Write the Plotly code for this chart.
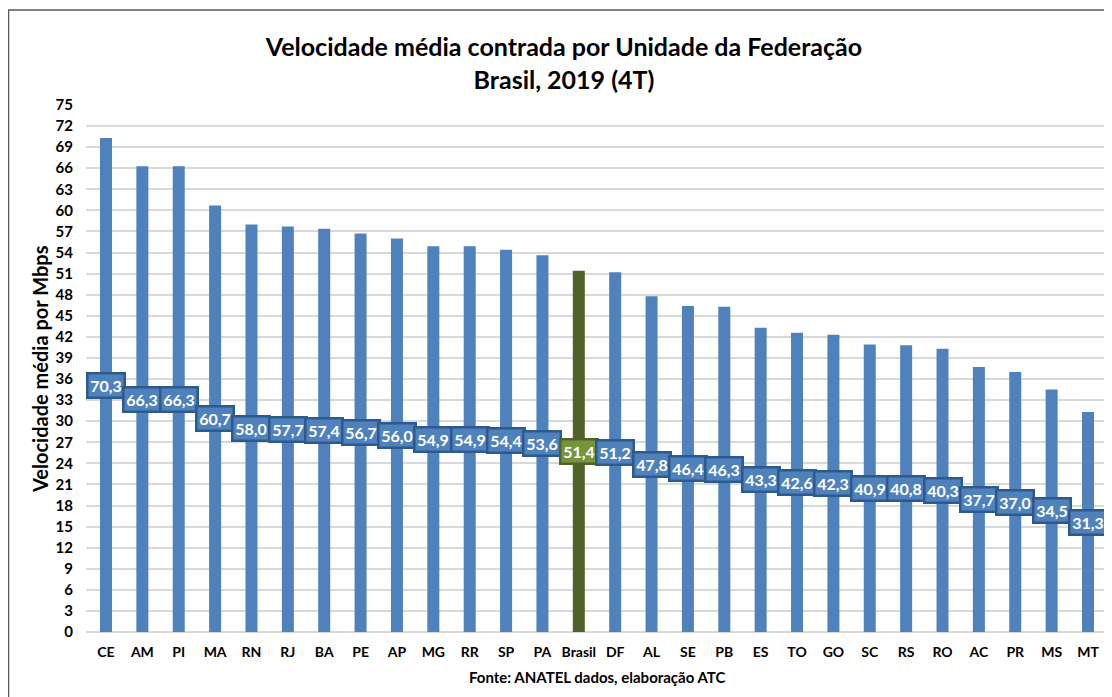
import plotly.graph_objects as go

categories = ["CE", "AM", "PI", "MA", "RN", "RJ", "BA", "PE", "AP", "MG", "RR", "SP", "PA",
              "Brasil", "DF", "AL", "SE", "PB", "ES", "TO", "GO", "SC", "RS", "RO", "AC", "PR", "MS", "MT"]
values = [70.3, 66.3, 66.3, 60.7, 58.0, 57.7, 57.4, 56.7, 56.0, 54.9, 54.9, 54.4, 53.6,
          51.4, 51.2, 47.8, 46.4, 46.3, 43.3, 42.6, 42.3, 40.9, 40.8, 40.3, 37.7, 37.0, 34.5, 31.3]
y_ticks = list(range(0, 76, 3))

FONT = "Lato"
BLUE = "#4F81BD"
BLUE_BORDER = "#2C5A8C"
GREEN_BAR = "#4F6228"
GREEN_BOX = "#77933C"

# page offset (body margin) compensation
OFF = 8
W, H = 1112 - OFF, 697 - OFF
PL, PR, PT, PB = 86 - OFF, 1108 - OFF, 105 - OFF, 632 - OFF
PW, PH = PR - PL, PB - PT


def px(xp):
    return (xp - OFF - PL) / PW


def py(yp):
    return (PB - (yp - OFF)) / PH


bar_colors = [GREEN_BAR if c == "Brasil" else BLUE for c in categories]

fig = go.Figure(go.Bar(
    x=categories, y=values, marker=dict(color=bar_colors, line=dict(width=0)),
    width=0.33, hoverinfo="x+y"
))

annotations = []
for c, v in zip(categories, values):
    is_br = c == "Brasil"
    annotations.append(dict(
        x=c, y=v / 2, xref="x", yref="y",
        text=f"{v:.1f}".replace(".", ","), showarrow=False,
        font=dict(family=FONT, size=16, color="white", weight="bold"),
        bgcolor=GREEN_BOX if is_br else BLUE,
        bordercolor=GREEN_BAR if is_br else BLUE_BORDER,
        borderwidth=2.5, borderpad=1, width=33, height=20, align="center",
    ))

annotations.append(dict(
    x=px(597), y=py(677), xref="paper", yref="paper", showarrow=False,
    text="Fonte: ANATEL dados, elaboração ATC",
    font=dict(family=FONT, size=15, color="black", weight="bold"),
    xanchor="center", yanchor="middle",
))

annotations.append(dict(
    x=px(40), y=py(369), xref="paper", yref="paper", showarrow=False,
    text="Velocidade média por Mbps", textangle=-90,
    font=dict(family=FONT, size=20, color="black", weight="bold"),
    xanchor="center", yanchor="middle",
))

fig.update_layout(
    width=W, height=H,
    margin=dict(l=PL, r=W - PR, t=PT, b=H - PB),
    paper_bgcolor="white", plot_bgcolor="white",
    title=dict(
        text="Velocidade média contrada por Unidade da Federação<br>Brasil, 2019 (4T)",
        x=(564 - OFF) / W, xanchor="center", y=1 - (56 - OFF) / H, yanchor="middle",
        font=dict(family=FONT, size=25, color="black", weight="bold"),
    ),
    showlegend=False,
    annotations=annotations,
    xaxis=dict(
        tickfont=dict(family=FONT, size=14, color="black", weight="bold"),
        showgrid=False, showline=False, zeroline=False, ticks="",
        ticklabelstandoff=10,
    ),
    yaxis=dict(
        range=[0, 75], tickvals=y_ticks,
        tickfont=dict(family=FONT, size=15, color="black", weight="bold"),
        showgrid=True, gridcolor="#D9D9D9", gridwidth=1.5,
        zeroline=True, zerolinecolor="#D9D9D9", zerolinewidth=1.5,
        showline=False, ticks="", ticklabelstandoff=12,
    ),
    shapes=[
        dict(type="line", xref="paper", yref="paper",
             x0=px(8), x1=px(1130), y0=py(10), y1=py(10),
             line=dict(color="#595959", width=1.5)),
        dict(type="line", xref="paper", yref="paper",
             x0=px(8.5), x1=px(8.5), y0=py(10), y1=py(720),
             line=dict(color="#595959", width=1.5)),
    ],
)

fig.write_html("out.html")
